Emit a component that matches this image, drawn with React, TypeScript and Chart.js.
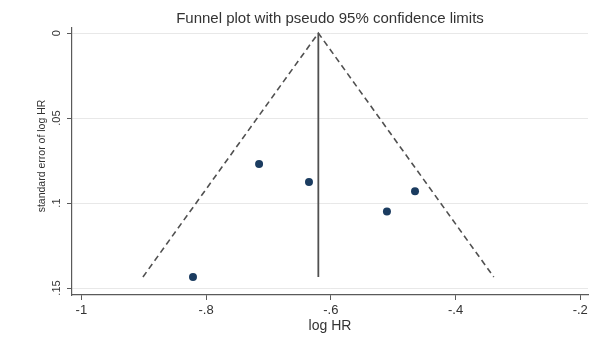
import React, { useEffect, useRef } from 'react';
import { Chart, registerables } from 'chart.js';

Chart.register(...registerables);

// ---- data ----
const studyLogHR = [-0.715, -0.635, -0.51, -0.465, -0.821];
const studySE = [0.077, 0.0876, 0.105, 0.093, 0.1435];
const pooledLogHR = -0.62;
const zCrit = 1.96;
const xTickValues = [-1, -0.8, -0.6, -0.4, -0.2];
const xTickLabels = ['-1', '-.8', '-.6', '-.4', '-.2'];
const yTickValues = [0, 0.05, 0.1, 0.15];
const yTickLabels = ['0', '.05', '.1', '.15'];
const chartTitle = 'Funnel plot with pseudo 95% confidence limits';
const xTitle = 'log HR';
const yTitle = 'standard error of log HR';

const FONT = '"Liberation Sans", Arial, sans-serif';
const TEXT = '#333333';
const AXIS = '#5a5a5a';

export default function App() {
  const ref = useRef<HTMLCanvasElement | null>(null);

  useEffect(() => {
    document.body.style.margin = '0';
    const canvas = ref.current;
    if (!canvas) return;

    const maxSE = Math.max(...studySE);
    const funnel = [
      { x: pooledLogHR - zCrit * maxSE, y: maxSE },
      { x: pooledLogHR, y: 0 },
      { x: pooledLogHR + zCrit * maxSE, y: maxSE },
    ];
    const pooledLine = [
      { x: pooledLogHR, y: 0 },
      { x: pooledLogHR, y: maxSE },
    ];
    const studies = studyLogHR.map((x, i) => ({ x, y: studySE[i] }));

    const textPlugin = {
      id: 'stataText',
      afterDraw(chart: any) {
        const ctx = chart.ctx;
        const area = chart.chartArea;
        const ys = chart.scales.y;
        ctx.save();
        ctx.fillStyle = TEXT;
        // y tick labels, rotated
        ctx.font = `11px ${FONT}`;
        ctx.textAlign = 'center';
        ctx.textBaseline = 'middle';
        yTickValues.forEach((v, i) => {
          const py = ys.getPixelForValue(v);
          ctx.save();
          ctx.translate(57, py);
          ctx.rotate(-Math.PI / 2);
          ctx.fillText(yTickLabels[i], 0, 0);
          ctx.restore();
        });
        // y title
        ctx.font = `10.5px ${FONT}`;
        ctx.save();
        ctx.translate(42, 156);
        ctx.rotate(-Math.PI / 2);
        ctx.fillText(yTitle, 0, 0);
        ctx.restore();
        // x title
        ctx.font = `14px ${FONT}`;
        ctx.fillText(xTitle, (area.left + area.right) / 2, 326);
        // chart title
        ctx.font = `15px ${FONT}`;
        ctx.fillText(chartTitle, (area.left + area.right) / 2, 19);
        ctx.restore();
      },
    };

    const chart = new Chart(canvas, {
      type: 'scatter',
      data: {
        datasets: [
          {
            label: 'pseudo 95% CI',
            data: funnel,
            showLine: true,
            borderColor: '#505050',
            borderWidth: 1.6,
            borderDash: [6, 4],
            pointRadius: 0,
            fill: false,
          },
          {
            label: 'pooled',
            data: pooledLine,
            showLine: true,
            borderColor: '#505050',
            borderWidth: 1.8,
            pointRadius: 0,
            fill: false,
          },
          {
            label: 'studies',
            data: studies,
            showLine: false,
            pointRadius: 4,
            pointBackgroundColor: '#1b3c60',
            pointBorderColor: '#1b3c60',
            pointBorderWidth: 0,
          },
        ],
      },
      options: {
        responsive: false,
        animation: false,
        layout: { padding: { top: 28, right: 17, left: 0, bottom: 0 } },
        plugins: {
          legend: { display: false },
          tooltip: { enabled: false },
          title: { display: false },
        },
        scales: {
          x: {
            type: 'linear',
            min: -1.015,
            max: -0.1876,
            afterBuildTicks(scale: any) {
              scale.ticks = xTickValues.map((v) => ({ value: v }));
            },
            afterFit(scale: any) {
              scale.height = 47;
            },
            ticks: {
              autoSkip: false,
              maxRotation: 0,
              padding: 3,
              color: TEXT,
              font: { family: FONT, size: 13 },
              callback: (_v: any, i: number) => xTickLabels[i],
            },
            grid: {
              drawOnChartArea: false,
              color: 'transparent',
              tickColor: AXIS,
              tickLength: 5,
              tickWidth: 1,
            },
            border: { display: true, color: AXIS, width: 1.2 },
          },
          y: {
            type: 'linear',
            reverse: true,
            min: -0.003,
            max: 0.1541,
            afterBuildTicks(scale: any) {
              scale.ticks = yTickValues.map((v) => ({ value: v }));
            },
            afterFit(scale: any) {
              scale.width = 72;
            },
            ticks: { display: false },
            grid: {
              color: '#e8e8e8',
              lineWidth: 1,
              tickColor: AXIS,
              tickLength: 5,
              tickWidth: 1,
            },
            border: { display: true, color: AXIS, width: 1.2 },
          },
        },
      },
      plugins: [textPlugin],
    });

    return () => chart.destroy();
  }, []);

  return (
    <div style={{ width: 605, height: 342, background: '#ffffff' }}>
      <canvas ref={ref} width={605} height={342} style={{ display: 'block' }} />
    </div>
  );
}
